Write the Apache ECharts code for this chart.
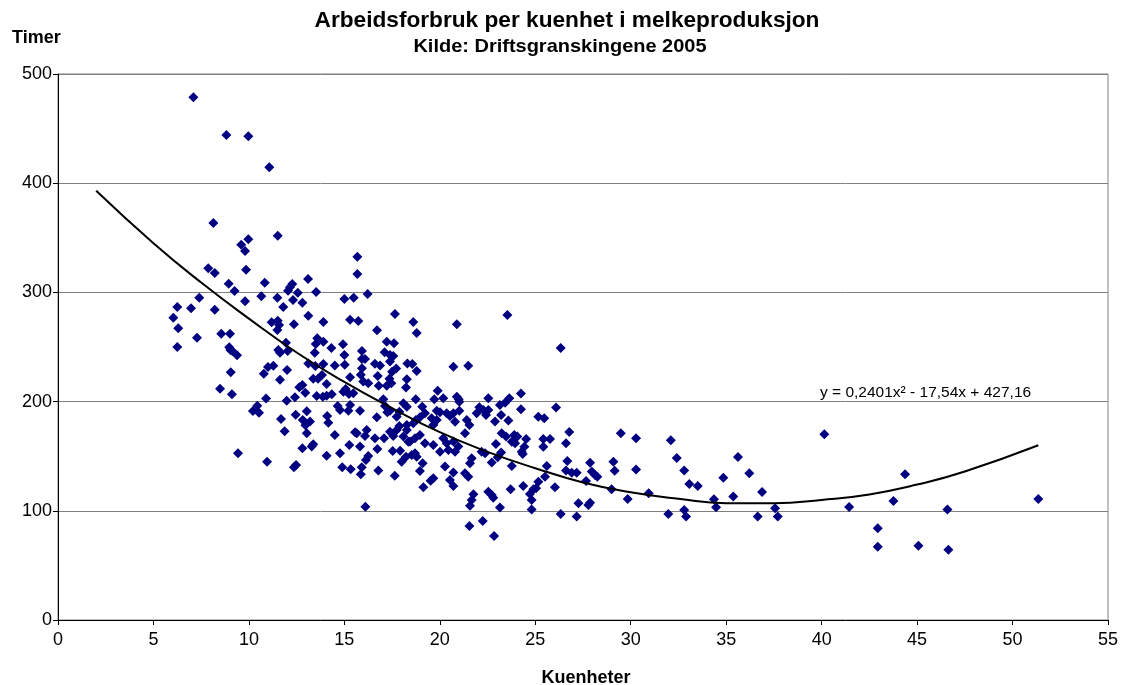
<!DOCTYPE html>
<html>
<head>
<meta charset="utf-8">
<script src="https://cdn.jsdelivr.net/npm/echarts@6/dist/echarts.min.js"></script>
<style>
html,body{margin:0;padding:0;background:#fff;}
#chart{width:1128px;height:685px;}
</style>
</head>
<body>
<div id="chart"></div>
<script>
// Scatter points: Kuenheter (x) and Timer (y)
var kuenheter = [
7.09,8.82,9.97,11.07,8.14,11.51,9.97,9.60,9.80,7.87,8.21,9.85,
8.94,10.83,12.27,12.15,12.05,13.1,9.25,7.40,10.65,11.49,12.56,12.31,12.8,9.80,6.25,6.97,8.21,11.8,13.11,6.04,11.19,11.51,11.58,11.49,12.36,6.30,8.55,9.01,7.28,11.94,6.25,8.97,9.03,9.13,9.38,11.54,11.63,12.03,13.11,11.28,11.0,10.78,12.0,9.05,11.63,12.64,12.8,8.49,9.11,12.95,12.41,10.9,11.98,10.44,10.21,10.53,11.68,12.45,13.03,12.82,12.96,13.03,11.87,12.8,9.43,10.95,12.47,12.36,
15.68,15.68,13.52,15.0,15.49,16.22,17.65,13.9,15.3,15.73,16.71,13.58,13.5,13.9,14.32,14.93,17.22,17.6,13.45,15.0,15.92,17.11,17.39,17.56,13.48,13.9,14.5,15.02,15.92,16.08,16.6,16.87,17.39,17.71,18.3,15.92,15.86,15.3,13.37,13.62,13.83,16.75,17.36,17.5,18.27,14.07,15.99,16.25,16.8,17.22,17.46,18.23,
13.55,13.87,14.07,14.34,15.07,14.95,15.24,15.47,14.65,14.77,15.3,15.21,15.82,16.7,17.25,17.39,17.13,17.04,17.74,17.88,18.09,18.27,14.1,14.16,13.2,14.5,15.56,15.65,16.17,16.08,16.6,17.08,17.39,17.56,17.74,18.27,18.35,17.88,13.29,13.37,15.26,15.82,16.73,17.53,17.92,14.07,14.77,16.25,16.13,18.23,18.0,14.89,15.33,15.91,15.86,16.78,17.64,16.1,
18.61,18.79,20.89,18.56,18.79,20.71,21.49,19.89,20.18,19.71,18.74,20.89,20.99,21.02,22.54,19.08,19.84,20.01,21.02,22.07,22.28,21.93,22.42,20.53,20.71,
18.27,18.61,18.75,18.96,19.22,19.57,19.66,19.84,20.36,20.8,21.41,21.55,21.32,18.09,18.44,18.7,18.96,19.22,19.66,20.18,20.36,20.45,20.01,20.71,20.97,20.8,18.53,18.7,18.79,22.19,22.37,21.67,21.58,19.1,18.96,20.27,20.71,21.32,21.49,19.52,19.66,20.53,20.71,19.14,21.76,21.67,21.58,22.54,21.55,22.25,
23.54,26.33,24.25,23.64,23.42,23.15,22.54,24.25,23.21,25.16,25.47,26.09,22.89,23.59,
23.24,23.47,23.9,24.06,23.77,23.94,24.52,24.43,25.42,25.77,25.42,26.78,26.61,22.94,23.21,23.03,22.72,24.29,24.34,23.77,25.6,26.68,26.61,26.91,27.17,25.51,25.16,24.37,26.03,24.9,25.04,24.72,24.81,22.72,22.8,23.71,23.15,24.81,26.33,27.17,27.26,22.84,
29.48,30.28,32.1,32.41,32.8,33.07,33.51,35.62,36.21,36.88,34.85,35.37,34.36,34.47,29.09,29.16,30.28,27.87,27.66,27.96,28.13,28.25,29.0,29.84,30.94,27.78,27.87,31.97,32.8,32.9,36.65,
37.56,37.7,40.14,41.44,42.94,42.94,43.76,44.37,45.07,46.59,46.64,51.35
];
var timer = [
478.7,444.1,443.0,414.7,363.6,351.9,348.6,343.7,337.9,322.1,317.8,320.8,
308,308.9,307.7,304.7,301.6,312.3,301.3,295.2,296.4,295.2,299.7,293,290.6,291.8,286.6,285.4,284.2,286.6,278.7,276.8,272.6,274.1,270.1,265.6,270.8,267.1,262.2,262.2,258.5,254,250,249.7,247.3,246.3,242.4,247.3,244.8,246.3,235,232.9,231.7,225.5,228.9,226.8,220,213.1,215.2,211.8,206.8,208.1,203.9,202.9,200.8,196.2,191.4,189.8,184.1,188,191.1,183.2,178.3,171,172.8,157.2,152.6,145,141.9,139.8,
332.7,316.8,300.4,294,295.2,298.5,280.2,272.9,275,273.8,265.3,258,252.7,254.9,249.1,252.5,254.9,253.4,244.8,242.7,246.3,245.1,242.7,241.8,232.6,234.4,233,233.8,239,239,234.7,233,236.7,230.3,235,230.5,224.6,222.2,221,221,224.4,223.4,221,227.4,220.4,216.1,218.3,216.7,214.6,214.6,216.7,213,
205.1,204.5,205.4,206.7,211.5,209.1,207,207.6,196,192.3,196.9,191.7,191.7,185.6,190.2,191.7,196,202.1,186.2,190.8,198.4,195.3,186.8,180.7,181.7,169.4,171.9,171,174,168.5,166.4,166.4,172.5,168.5,174,174,163.3,177.7,158.8,161,160.3,158.8,156.6,154.8,155,150.5,152.6,150.2,146.5,149.6,145,139.8,138,139.8,133.4,136.8,132.1,103.8,
272.9,262.8,270.8,234.4,228,232,232.9,210,203,202.1,202.1,204.5,202.1,199.9,203,195.3,191.7,190.2,191.7,194.8,192.3,189.3,187.7,186.8,189.3,
178.6,180.1,183.2,185.6,189.3,184.8,178.6,183.2,189.3,181.6,183.2,178.6,171,168,163.4,166.4,169.4,161.9,160.3,166.4,161.9,155.7,154.1,163.4,158.8,154.1,151.1,152.6,149.6,154.1,152.6,148.1,143.5,143.5,136.4,140.5,135,134.3,131.2,127.6,129.8,128.2,122.7,121.5,115.1,109.9,104.7,117.5,86.1,90.7,
279.3,249.1,207.5,203,199,196.9,192.3,192.9,187.7,186.2,184.7,194.5,181.7,182.7,
171,168,169.4,168,163.3,161.9,165.8,158.7,165.8,165.8,158.7,172.2,161.9,161.2,153.3,149.1,144.2,154.1,152,141,141,145.6,136.8,134.9,134.9,131.2,126.6,122.7,121.5,119.7,120.6,115.4,109.9,114.5,112,119.7,103.1,101.3,97.1,94.7,106.9,76.9,
171,166.4,164.6,148.4,136.8,124.5,122.7,149.3,134.3,117.2,130.3,113,110.5,103.2,145,136.7,137.8,144.1,127.3,135.9,132.8,131.2,119.7,110.8,116,105.3,107.4,97.1,100.7,94.7,94.7,
102.3,94.7,170.1,103.5,84,67.1,109,133.4,68.1,101.1,64.4,110.8
];
// Trend line (polynomial trend, 2nd order)
var trendX = [2, 5, 7.5, 10, 12.5, 15, 17.5, 20, 22.5, 25, 27.5, 30, 32.5, 35, 37.5, 40, 42.5, 45, 47.5, 51.35];
var trendY = [393, 345, 309, 276, 245, 218, 194, 172, 154, 139, 126, 117, 111, 107, 107, 110, 115, 124, 136, 160];
var xTicks = [0, 55, 5];
var yTicks = [0, 500, 100];
var titleText = 'Arbeidsforbruk per kuenhet i melkeproduksjon';
var subText = 'Kilde: Driftsgranskingene 2005';
var yName = 'Timer';
var xName = 'Kuenheter';
var equation = 'y = 0,2401x² - 17,54x + 427,16';

var scatterData = [];
var n = Math.min(kuenheter.length, timer.length);
for (var i = 0; i < n; i++) scatterData.push([kuenheter[i], timer[i]]);
var trendData = trendX.map(function (x, i) { return [x, trendY[i]]; });

var chart = echarts.init(document.getElementById('chart'), null, {renderer: 'canvas'});
var font = 'Liberation Sans, Arial, sans-serif';
chart.setOption({
  animation: false,
  backgroundColor: '#ffffff',
  grid: {left: 58, right: 20, top: 74, bottom: 65, show: true, borderColor: '#808080', borderWidth: 1,
         outerBoundsMode: 'none', containLabel: false},
  xAxis: {
    type: 'value', min: xTicks[0], max: xTicks[1], interval: xTicks[2],
    axisLine: {show: true, onZero: false, lineStyle: {color: '#000', width: 1}},
    axisTick: {show: true, inside: false, length: 5, lineStyle: {color: '#000'}},
    axisLabel: {fontFamily: font, fontSize: 18, color: '#000', margin: 11},
    splitLine: {show: false}
  },
  yAxis: {
    type: 'value', min: yTicks[0], max: yTicks[1], interval: yTicks[2],
    axisLine: {show: true, onZero: false, lineStyle: {color: '#000', width: 1}},
    axisTick: {show: true, inside: false, length: 5, lineStyle: {color: '#000'}},
    axisLabel: {fontFamily: font, fontSize: 18, color: '#000', margin: 6},
    splitLine: {show: true, lineStyle: {color: '#808080', width: 1}}
  },
  graphic: [
    {type: 'text', x: 567, y: 21, scaleX: 1.03, style: {text: titleText, font: 'bold 22px ' + font, fill: '#000', align: 'center', verticalAlign: 'middle'}},
    {type: 'text', x: 560, y: 47, scaleX: 1.08, style: {text: subText, font: 'bold 18.5px ' + font, fill: '#000', align: 'center', verticalAlign: 'middle'}},
    {type: 'text', x: 12, y: 38, style: {text: yName, font: 'bold 18px ' + font, fill: '#000', align: 'left', verticalAlign: 'middle'}},
    {type: 'text', x: 586, y: 678, style: {text: xName, font: 'bold 18px ' + font, fill: '#000', align: 'center', verticalAlign: 'middle'}},
    {type: 'text', x: 820, y: 393, style: {text: equation, font: '15.5px ' + font, fill: '#000', align: 'left', verticalAlign: 'middle'}}
  ],
  series: [
    {
      type: 'scatter', data: scatterData, symbol: 'diamond', symbolSize: 10,
      itemStyle: {color: '#000080', opacity: 1}, z: 3
    },
    {
      type: 'line', data: trendData, smooth: true, showSymbol: false, symbol: 'none',
      lineStyle: {color: '#000', width: 2}, z: 4
    }
  ]
});
</script>
</body>
</html>
